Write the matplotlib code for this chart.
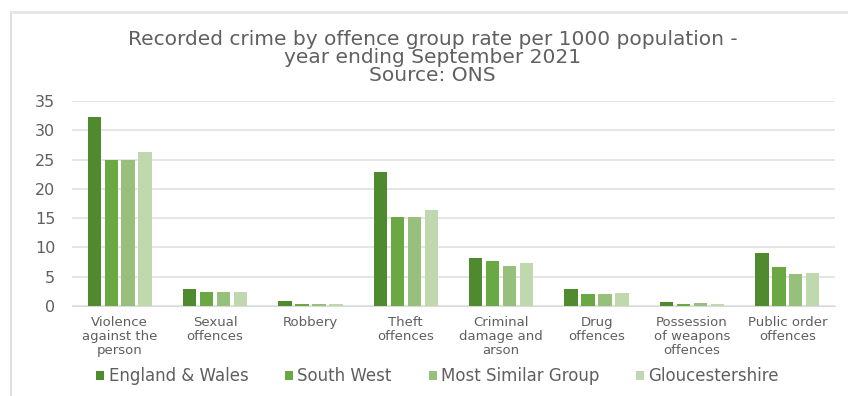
import matplotlib.pyplot as plt
import numpy as np
from matplotlib.lines import Line2D

plt.rcParams['font.family'] = ['DejaVu Sans']

categories = ['Violence\nagainst the\nperson', 'Sexual\noffences', 'Robbery',
              'Theft\noffences', 'Criminal\ndamage and\narson', 'Drug\noffences',
              'Possession\nof weapons\noffences', 'Public order\noffences']
series = ['England & Wales', 'South West', 'Most Similar Group', 'Gloucestershire']
england_wales = [32.3, 2.9, 0.9, 22.9, 8.2, 2.9, 0.7, 9.0]
south_west = [24.9, 2.4, 0.4, 15.2, 7.7, 2.1, 0.4, 6.7]
similar_group = [24.9, 2.4, 0.4, 15.2, 6.8, 2.1, 0.5, 5.5]
gloucestershire = [26.3, 2.4, 0.3, 16.4, 7.3, 2.3, 0.3, 5.7]
colours = ['#4f8a2e', '#6aa844', '#97c07c', '#c0d8ae']

fig = plt.figure(figsize=(8.48, 3.96), dpi=100)
# thin frame along the top and left edge
fig.add_artist(Line2D([11 / 848, 11 / 848], [0, 1 - 12 / 396], transform=fig.transFigure,
                      color='#e0e0e0', linewidth=1.5))
fig.add_artist(Line2D([11 / 848, 1], [1 - 12 / 396, 1 - 12 / 396], transform=fig.transFigure,
                      color='#e6e6e6', linewidth=2))

ax = fig.add_axes([72 / 848, 1 - 306 / 396, 763 / 848, 205 / 396])
x = np.arange(len(categories))
step, width = 0.178, 0.14
for i, (name, vals) in enumerate(zip(series, [england_wales, south_west, similar_group, gloucestershire])):
    ax.bar(x + (i - 1.5) * step, vals, width, color=colours[i], label=name, zorder=3)

ax.set_xlim(-0.5, len(categories) - 0.5)
ax.set_ylim(0, 35)
ax.set_yticks(range(0, 36, 5))
ax.grid(axis='y', color='#e0e0e0', linewidth=1.2, zorder=0)
for s in ['top', 'right', 'left']:
    ax.spines[s].set_visible(False)
ax.spines['bottom'].set_color('#d9d9d9')
ax.set_xticks(x)
ax.set_xticklabels(categories, fontsize=9.5, color='#5f5f5f', linespacing=1.1)
ax.tick_params(axis='both', length=0, colors='#5f5f5f')
ax.tick_params(axis='y', labelsize=11.5, pad=12)
ax.tick_params(axis='x', pad=7)

fig.text(0.51, 0.925, 'Recorded crime by offence group rate per 1000 population -\n'
         'year ending September 2021\nSource: ONS', ha='center', va='top',
         fontsize=14.5, color='#606060', linespacing=0.95)

fig.legend(loc='center', bbox_to_anchor=(0.516, 0.05), ncol=4, frameon=False,
           fontsize=12, labelcolor='#5f5f5f', handlelength=0.5, handleheight=0.5,
           handletextpad=0.25, columnspacing=2.2)

fig.savefig('out.png', dpi=100)
